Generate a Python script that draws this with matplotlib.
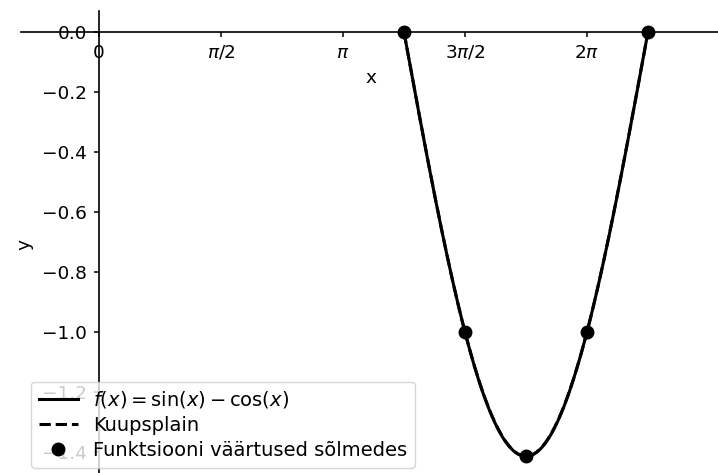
import numpy as np
import matplotlib
matplotlib.use("Agg")
import matplotlib.pyplot as plt

# nodes (x in units of pi) and function values
node_x_pi = [1.25, 1.5, 1.75, 2.0, 2.25]
node_y = [0.0, -1.0, -1.414, -1.0, 0.0]

xtick_pi = [0, 0.5, 1, 1.5, 2]
xtick_labels = ["0", r"$\pi/2$", r"$\pi$", r"$3\pi/2$", r"$2\pi$"]


def natural_spline(xn, yn, xs):
    xn = np.asarray(xn, float)
    yn = np.asarray(yn, float)
    n = len(xn)
    h = np.diff(xn)
    A = np.zeros((n, n))
    b = np.zeros(n)
    A[0, 0] = A[-1, -1] = 1.0
    for i in range(1, n - 1):
        A[i, i - 1] = h[i - 1]
        A[i, i] = 2 * (h[i - 1] + h[i])
        A[i, i + 1] = h[i]
        b[i] = 3 * ((yn[i + 1] - yn[i]) / h[i] - (yn[i] - yn[i - 1]) / h[i - 1])
    c = np.linalg.solve(A, b)
    out = np.empty_like(xs)
    for k, x in enumerate(xs):
        i = min(max(np.searchsorted(xn, x) - 1, 0), n - 2)
        dx = x - xn[i]
        bi = (yn[i + 1] - yn[i]) / h[i] - h[i] * (2 * c[i] + c[i + 1]) / 3
        di = (c[i + 1] - c[i]) / (3 * h[i])
        out[k] = yn[i] + bi * dx + c[i] * dx ** 2 + di * dx ** 3
    return out


xn = np.array(node_x_pi) * np.pi
xs = np.linspace(xn[0], xn[-1], 400)
f = np.sin(xs) - np.cos(xs)
spl = natural_spline(xn, node_y, xs)

fig = plt.figure(figsize=(7.18, 4.73), dpi=100)
ax = fig.add_axes([21.3 / 718, -4.5 / 473, 699 / 718, 466.7 / 473])

ax.plot(xs, f, color="black", lw=2.2, label=r"$f(x) = \sin(x) - \cos(x)$")
ax.plot(xs, spl, color="black", lw=2.2, ls="--", label="Kuupsplain")
ax.plot(xn, node_y, "o", color="black", ms=9, label="Funktsiooni väärtused sõlmedes")

ax.set_xlim(-1, 8)
ax.set_ylim(-1.485, 0.0707)
ax.spines["left"].set_position(("data", 0))
ax.spines["bottom"].set_position(("data", 0))
ax.spines["top"].set_visible(False)
ax.spines["right"].set_visible(False)
for s in ("left", "bottom"):
    ax.spines[s].set_linewidth(1.2)

ax.set_xticks(np.array(xtick_pi) * np.pi)
ax.set_xticklabels(xtick_labels)
ax.set_yticks(np.arange(0, -1.41, -0.2))
ax.tick_params(labelsize=13.3, width=1.1, pad=5)
ax.set_xlabel("x", fontsize=13.3, labelpad=5)
ax.set_ylabel("y", fontsize=13.3, labelpad=6)
ax.legend(loc="lower left", fontsize=14, labelspacing=0.3)

fig.savefig("out.png", dpi=100)
